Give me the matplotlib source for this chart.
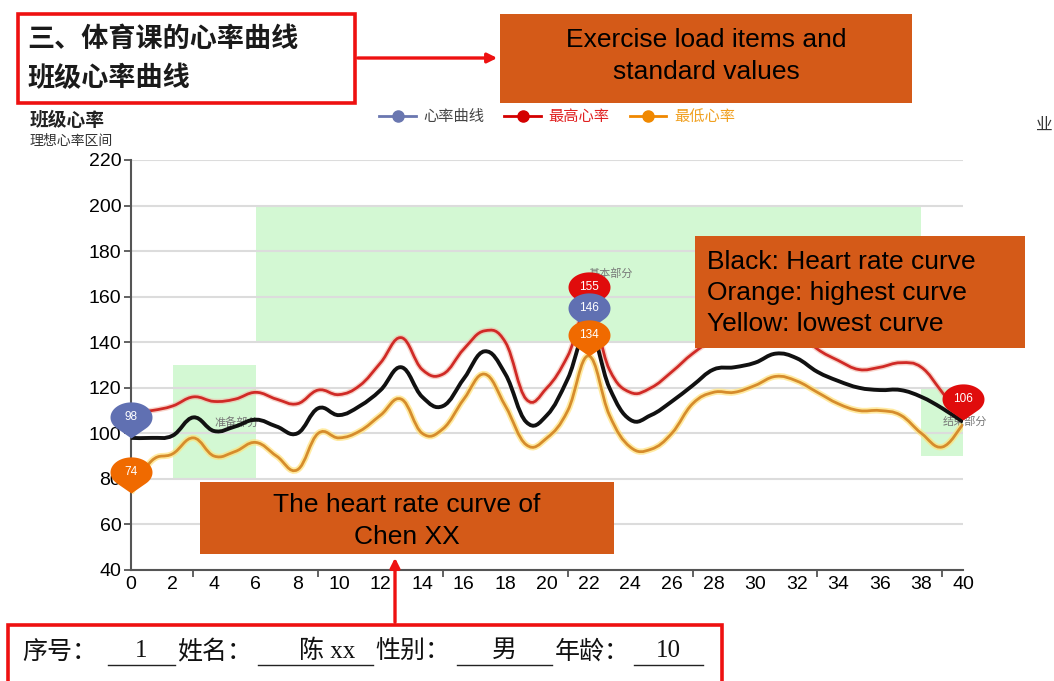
import numpy as np
import matplotlib.pyplot as plt
from matplotlib.path import Path
from matplotlib.patches import PathPatch, Rectangle, FancyArrowPatch
from matplotlib.lines import Line2D

plt.rcParams['font.family'] = ['Liberation Sans', 'Noto Sans CJK SC', 'DejaVu Sans']

W, H = 1054, 681

# 数据
minutes = list(range(41))
heart_rate = [98, 98, 99, 107, 101, 103, 106, 103, 100, 111, 108, 112, 119, 129, 116, 112, 124, 136, 126, 105, 108,
              124, 146, 120, 106, 108, 114, 121, 128, 129, 131, 135, 133, 127, 123, 120, 119, 119, 116, 111, 105]
highest = [109, 110, 112, 116, 114, 115, 118, 115, 113, 119, 117, 121, 131, 142, 128, 126, 137, 145, 140, 115, 120,
           134, 155, 128, 118, 120, 127, 135, 141, 144, 147, 149, 145, 137, 132, 128, 129, 131, 129, 118, 106]
lowest = [74, 88, 91, 98, 90, 92, 96, 90, 84, 100, 98, 101, 108, 115, 100, 102, 115, 126, 112, 95, 98,
          110, 134, 108, 94, 93, 100, 113, 118, 118, 121, 125, 123, 118, 113, 110, 110, 108, 100, 94, 104]
x_ticks = list(range(0, 41, 2))
y_ticks = [40, 60, 80, 100, 120, 140, 160, 180, 200, 220]
zone_names = ['准备部分', '基本部分', '结束部分']
zone_x = [(2, 6), (6, 38), (38, 40)]
zone_y = [(80, 130), (140, 200), (90, 120)]
legend_names = ['心率曲线', '最高心率', '最低心率']


def smooth_path(xs, ys, k=0.2):
    pts = np.column_stack([xs, ys]).astype(float)
    n = len(pts)
    verts = [pts[0]]
    codes = [Path.MOVETO]
    for i in range(n - 1):
        p0 = pts[max(i - 1, 0)]
        p1 = pts[i]
        p2 = pts[i + 1]
        p3 = pts[min(i + 2, n - 1)]
        verts += [p1 + k * (p2 - p0), p2 - k * (p3 - p1), p2]
        codes += [Path.CURVE4] * 3
    return Path(verts, codes)


def pin_marker(rx=0.5, ry=0.36, cy=0.5):
    # 椭圆 + 尖尾, 尖端在原点
    a = -np.arcsin(ry / cy)
    t = np.linspace(a, np.pi - a, 50)
    v = [(0, 0)] + [(rx * np.cos(s), cy + ry * np.sin(s)) for s in t] + [(0, 0)]
    return Path(v, closed=True)


fig = plt.figure(figsize=(W / 100, H / 100), dpi=100)
ax = fig.add_axes([131 / W, 1 - 570 / H, 832 / W, 410 / H])
ax.set_xlim(0, 40)
ax.set_ylim(40, 220)

for name, (x0, x1), (y0, y1) in zip(zone_names, zone_x, zone_y):
    ax.add_patch(Rectangle((x0, y0), x1 - x0, y1 - y0, facecolor='#d3f8d3', edgecolor='none', zorder=0.2))
    ax.text((x0 + x1) / 2, (y0 + y1) / 2, name, ha='left', va='center', fontsize=8, color='#777777', zorder=2)

ax.set_axisbelow(True)
ax.yaxis.grid(True, color='#dcdcdc', lw=1.5)
ax.set_yticks(y_ticks)
ax.set_xticks(x_ticks)
ax.set_xticks(range(0, 40, 3), minor=True)
ax.tick_params(axis='x', which='major', length=0, labelsize=13, pad=4)
ax.tick_params(axis='x', which='minor', length=5, color='#555555', width=1.3)
ax.tick_params(axis='y', length=5, color='#555555', labelsize=13, width=1.3, pad=2)
for lab in ax.get_xticklabels() + ax.get_yticklabels():
    lab.set_family(['Liberation Sans Narrow', 'Liberation Sans'])
    lab.set_fontsize(14)
for s in ['top', 'right']:
    ax.spines[s].set_visible(False)
for s in ['left', 'bottom']:
    ax.spines[s].set_color('#555555')
    ax.spines[s].set_linewidth(1.5)

# 曲线
ax.add_patch(PathPatch(smooth_path(minutes, highest), fill=False, edgecolor='#f3b8a8', lw=4, alpha=0.6, zorder=3))
ax.add_patch(PathPatch(smooth_path(minutes, highest), fill=False, edgecolor='#d02a26', lw=2, zorder=3.1))
ax.add_patch(PathPatch(smooth_path(minutes, heart_rate), fill=False, edgecolor='#111111', lw=2.8, zorder=3.2))
ax.add_patch(PathPatch(smooth_path(minutes, lowest), fill=False, edgecolor='#ffe27a', lw=4.5, alpha=0.7, zorder=3))
ax.add_patch(PathPatch(smooth_path(minutes, lowest), fill=False, edgecolor='#d68c2c', lw=2, zorder=3.1))

# 最大/最小标记
pin = pin_marker()
series = [(highest, '#e00c0c'), (heart_rate, '#6070b2'), (lowest, '#f06a00')]
z = 5
for vals, col in series:
    for idx in (int(np.argmax(vals)), int(np.argmin(vals))):
        ax.plot(minutes[idx], vals[idx], marker=pin, markersize=52, color=col, mew=0, zorder=z, clip_on=False)
        ax.annotate(str(vals[idx]), (minutes[idx], vals[idx]), xytext=(0, 15), textcoords='offset points',
                    ha='center', va='center', color='white', fontsize=8.5, zorder=z + 0.5, annotation_clip=False)
        z += 1

# 图例与标题
handles = [Line2D([], [], color=c, lw=2, marker='o', markersize=8) for c in ['#6a77b0', '#d40000', '#f08800']]
leg = fig.legend(handles, legend_names, loc='center', bbox_to_anchor=(557 / W, 1 - 117 / H), ncol=3,
                 frameon=False, fontsize=11, handlelength=2.4, columnspacing=1.3, handletextpad=0.5)
for t, c in zip(leg.get_texts(), ['#444444', '#e02020', '#f0a020']):
    t.set_color(c)
fig.text(30 / W, 1 - 121 / H, '班级心率', fontsize=13.5, fontweight='bold', va='center', color='#222222')
fig.text(30 / W, 1 - 141 / H, '理想心率区间', fontsize=10, va='center', color='#333333')
fig.text(1036 / W, 1 - 125 / H, '业', fontsize=12, va='center', color='#333333')


def fx(x):
    return x / W


def fy(y):
    return 1 - y / H


# 红框
fig.patches.append(Rectangle((fx(18), fy(103)), 337 / W, 89 / H, transform=fig.transFigure,
                             facecolor='white', edgecolor='#ee1111', lw=2.6))
fig.text(fx(27), fy(40), '三、体育课的心率曲线', fontsize=19.5, fontweight='bold', va='center', color='#1a1a1a')
fig.text(fx(27), fy(79), '班级心率曲线', fontsize=19.5, fontweight='bold', va='center', color='#1a1a1a')

fig.patches.append(Rectangle((fx(8), fy(700)), 714 / W, 75 / H, transform=fig.transFigure,
                             facecolor='white', edgecolor='#ee1111', lw=2.6))
info_font = ['Liberation Serif', 'Noto Sans CJK SC']
for txt, x in [('序号：', 22), ('姓名：', 177), ('性别：', 375), ('年龄：', 555)]:
    fig.text(fx(x), fy(652), txt, fontsize=18, va='center', family=info_font, color='#111111')
for txt, x0, x1 in [('1', 108, 175), ('陈 xx', 258, 373), ('男', 457, 552), ('10', 634, 703)]:
    fig.text(fx((x0 + x1) / 2 + (12 if txt == '陈 xx' else 0)), fy(651), txt, fontsize=18, ha='center',
             va='center', family=info_font, color='#111111')
    fig.add_artist(Line2D([fx(x0), fx(x1)], [fy(665), fy(665)], color='#222222', lw=1))

# 橙色说明框
orange = '#d45a18'
fig.patches.append(Rectangle((fx(500), fy(103)), 412 / W, 89 / H, transform=fig.transFigure,
                             facecolor=orange, edgecolor='none'))
fig.text(fx(706), fy(56), 'Exercise load items and\nstandard values', fontsize=19, ha='center', va='center',
         linespacing=1.4, color='black')
fig.patches.append(Rectangle((fx(695), fy(348)), 330 / W, 112 / H, transform=fig.transFigure,
                             facecolor=orange, edgecolor='none', zorder=10))
fig.text(fx(707), fy(293), 'Black: Heart rate curve\nOrange: highest curve\nYellow: lowest curve', fontsize=19,
         ha='left', va='center', linespacing=1.35, color='black', zorder=11)
fig.patches.append(Rectangle((fx(200), fy(554)), 414 / W, 72 / H, transform=fig.transFigure,
                             facecolor=orange, edgecolor='none', zorder=10))
fig.text(fx(407), fy(521), 'The heart rate curve of\nChen XX', fontsize=19, ha='center', va='center',
         linespacing=1.4, color='black', zorder=11)

# 箭头
fig.patches.append(FancyArrowPatch((fx(355), fy(58)), (fx(500), fy(58)), transform=fig.transFigure,
                                   arrowstyle='-|>', mutation_scale=14, color='#ee1111', lw=2.4))
fig.patches.append(FancyArrowPatch((fx(395), fy(625)), (fx(395), fy(555)), transform=fig.transFigure,
                                   arrowstyle='-|>', mutation_scale=14, color='#ee1111', lw=2.4, zorder=12))

fig.savefig('out.png', dpi=100, facecolor='white')
